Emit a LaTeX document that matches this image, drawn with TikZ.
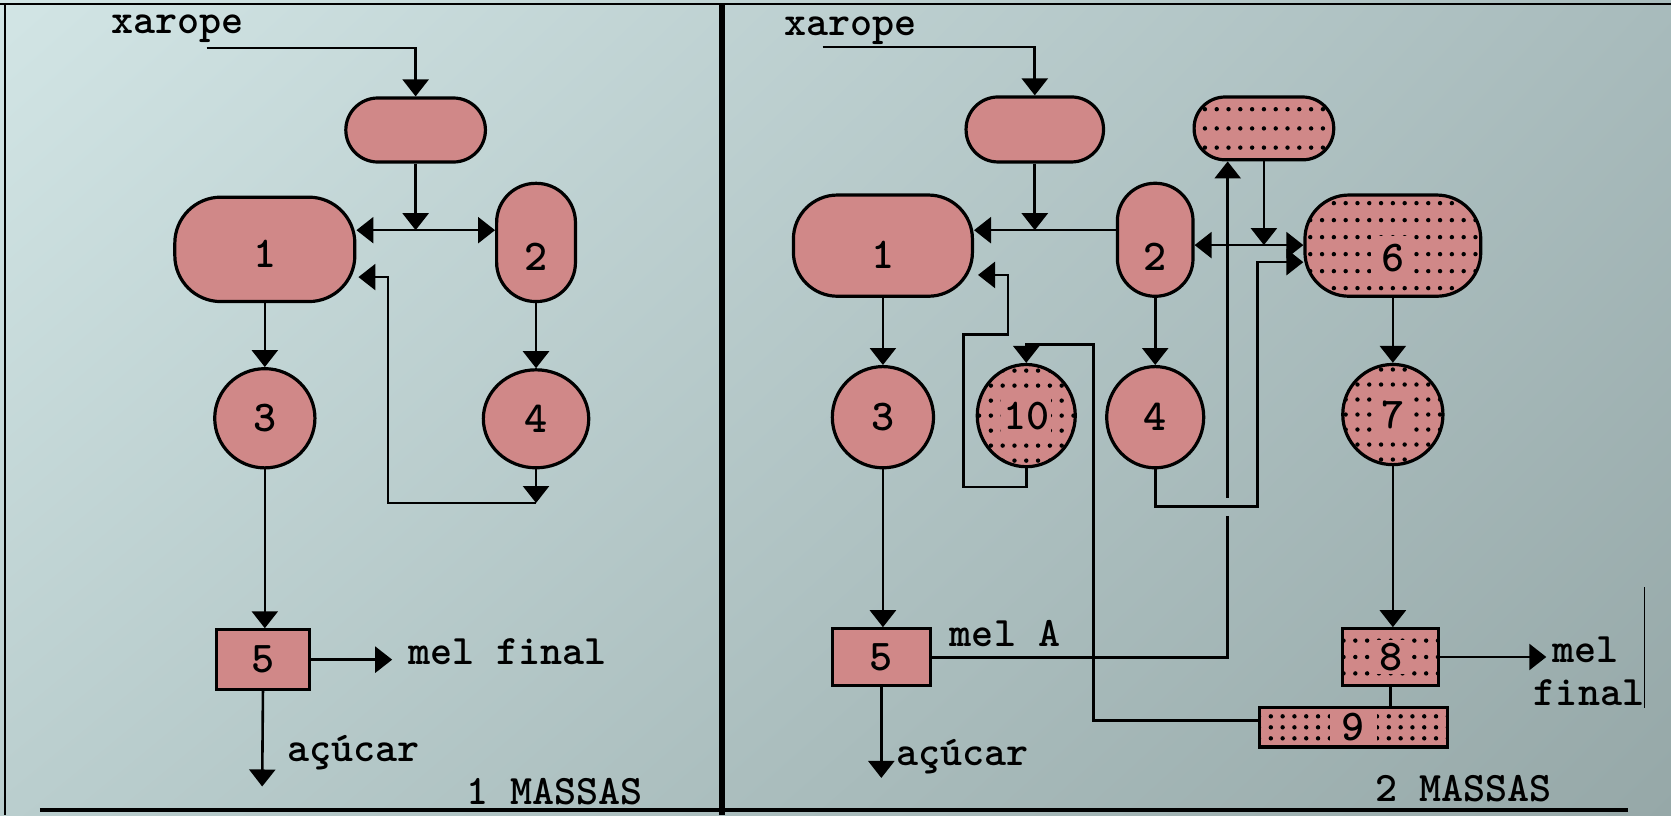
\documentclass[tikz,border=0pt]{standalone}
\usetikzlibrary{arrows.meta,shapes.geometric,shadings}
\definecolor{bgul}{RGB}{210,229,229}
\definecolor{bgur}{RGB}{168,187,188}
\definecolor{bgll}{RGB}{186,206,206}
\definecolor{bglr}{RGB}{150,168,168}
\definecolor{pinkfill}{RGB}{208,136,136}
\newcommand{\numfont}{\fontsize{22}{24}\selectfont\ttfamily\bfseries}
\newcommand{\txtfont}{\fontsize{21}{24}\selectfont\ttfamily\bfseries}
\tikzset{
  conn/.style={line width=1.3pt},
  arr/.style={line width=1.3pt, -{Triangle[width=13pt,length=8.5pt]}},
  unitshape/.style={draw, line width=1.6pt, fill=pinkfill, inner sep=0pt},
  stad/.style n args={3}{unitshape, rectangle, rounded corners=#3, minimum width=#1, minimum height=#2},
  ovl/.style 2 args={unitshape, ellipse, minimum width=#1, minimum height=#2},
  boxu/.style 2 args={unitshape, rectangle, minimum width=#1, minimum height=#2},
  dotfill/.style={path picture={
      \foreach \i in {-9,...,9}{\foreach \j in {-4,...,4}{
        \fill[black] ([shift={(\i*5.9pt,\j*#1)}]path picture bounding box.center) circle (1.1pt);}}}},
  dotfill/.default=8.5pt,
  dotfillh/.style={path picture={
      \foreach \i in {-9,...,9}{\foreach \j in {-4,...,3}{
        \fill[black] ([shift={(\i*5.9pt,\j*#1+0.5*#1)}]path picture bounding box.center) circle (1.1pt);}}}},
  lab/.style={font=\numfont, inner sep=1pt},
  dlab/.style={font=\numfont, fill=pinkfill, inner xsep=#1, inner ysep=4pt},
  txt/.style={font=\txtfont, inner sep=0pt},
}
\begin{document}
\begin{tikzpicture}[x=0.5328pt, y=-0.5328pt]
\useasboundingbox (0,0) rectangle (1568,765);
\shade[upper left=bgul, upper right=bgur, lower left=bgll, lower right=bglr] (0,0) rectangle (1568,765);
% frame
\draw[line width=1pt] (0,4) -- (1568,4);
\draw[line width=1.1pt] (5,4) -- (5,765);
\draw[line width=3.3pt] (677.5,4) -- (677.5,765);
\draw[line width=2pt] (37.5,760) -- (1528,760);
\draw[line width=0.8pt] (1543,551) -- (1543,664);

% ===== left panel =====
\node[txt, anchor=base] (xarl) at (166.5,31) {xarope};
\coordinate (xls) at (194,45);
\node[stad={69.8pt}{32pt}{16pt}] (tl) at (390,122) {};
\node[stad={90pt}{52.2pt}{23pt}, label={[lab,yshift=-2pt]center:1}] (n1l) at (248.5,234) {};
\node[stad={39.4pt}{59.1pt}{19.5pt}, label={[lab,yshift=-7pt]center:2}] (n2l) at (503,227.5) {};
\node[ovl={50.1pt}{49.6pt}, label={[lab]center:3}] (n3l) at (248.5,392.5) {};
\node[ovl={52.7pt}{49pt}, label={[lab]center:4}] (n4l) at (503,393) {};
\node[boxu={46.4pt}{29.8pt}, label={[lab]center:5}] (n5l) at (247,619) {};

\draw[arr] (xls) -| (tl.north);
\coordinate (jl) at (390,216);
\draw[arr] (tl) -- (jl);
\draw[arr] (jl) -- (n1l.east |- jl);
\draw[arr] (jl) -- (n2l.west |- jl);
\draw[arr] (n1l) -- (n1l |- n3l.north);
\draw[arr] (n2l) -- (n2l |- n4l.north);
\coordinate (ml) at (503,472);
\coordinate (rl1) at (364,472);
\coordinate (rl2) at (364,260);
\draw[arr] (n4l) -- (ml);
\draw[arr, shorten >=1pt] (ml) -- (rl1) -- (rl2) -- (rl2 -| n1l.east);
\draw[arr] (n3l) -- (n3l |- n5l.north);
\coordinate (mfl) at (368,619);
\draw[arr] (n5l) -- (mfl);
\node[txt, anchor=base west] (melfl) at (383,624) {mel final};
\coordinate (acl) at (246,738);
\draw[arr] (n5l) -- (acl);
\node[txt, anchor=base west] (acucl) at (269,715) {açúcar};
\node[txt, anchor=base west] (mass1) at (437,755) {1 MASSAS};

% ===== right panel =====
\node[txt, anchor=base] (xarr) at (798,33) {xarope};
\coordinate (xrs) at (772,44);
\node[stad={68.7pt}{32.5pt}{16pt}] (tr) at (971,121.5) {};
\node[stad={69.8pt}{31.4pt}{15.5pt}, dotfill=9.6pt] (td) at (1186,120.5) {};
\node[stad={89.5pt}{50.6pt}{22pt}, label={[lab,yshift=-4.5pt]center:1}] (n1r) at (828.5,230.5) {};
\node[stad={37.8pt}{56.5pt}{18.8pt}, label={[lab,yshift=-8.5pt]center:2}] (n2r) at (1084,225) {};
\node[stad={87.9pt}{50.6pt}{22pt}, dotfillh=8.5pt, label={[dlab=5pt,yshift=-6pt]center:6}] (n6) at (1307,230.5) {};
\node[ovl={50.6pt}{50.6pt}, label={[lab]center:3}] (n3r) at (828.5,391.5) {};
\node[ovl={49pt}{51.1pt}, dotfill=7.5pt, label={[dlab=1pt]center:10}] (n10) at (963,390) {};
\node[ovl={48.5pt}{50.6pt}, label={[lab]center:4}] (n4r) at (1084,391.5) {};
\node[ovl={50.1pt}{50.1pt}, dotfill=7.5pt, label={[dlab=3pt]center:7}] (n7) at (1307,389) {};
\node[boxu={49pt}{28.2pt}, label={[lab]center:5}] (n5r) at (827,616.5) {};
\node[boxu={48pt}{28.2pt}, dotfill=8.2pt, label={[dlab=4pt,inner ysep=1.5pt]center:8}] (n8) at (1305,616.5) {};
\node[boxu={93.8pt}{19.7pt}, dotfill=5.5pt, label={[dlab=6pt,inner ysep=0.5pt]center:9}] (n9) at (1270,682.5) {};

\draw[arr] (xrs) -| (tr.north);
\coordinate (jr) at (971,216);
\draw[arr] (tr) -- (jr);
\draw[arr] (n2r.west |- jr) -- (n1r.east |- jr);
\coordinate (jd) at (1186,230);
\draw[arr] (td) -- (jd);
\draw[arr] (jd) -- (n2r.east |- jd);
\draw[arr] (jd) -- (n6.west |- jd);
\draw[arr] (n1r) -- (n1r |- n3r.north);
\draw[arr] (n2r) -- (n2r |- n4r.north);
\draw[arr] (n6) -- (n6 |- n7.north);
\draw[arr] (n3r) -- (n3r |- n5r.north);
\draw[arr] (n7) -- (n7 |- n8.north);
\coordinate (acr) at (827,730);
\draw[arr] (n5r) -- (acr);
\node[txt, anchor=base west] (acucr) at (841,718) {açúcar};
\coordinate (mfr) at (1451,616.5);
\draw[arr] (n8) -- (mfr);
\node[txt, anchor=base west] (melr) at (1456,622) {mel};
\node[txt, anchor=base west] (finr) at (1439,662) {final};
\draw[conn] (n8) -- (n8 |- n9.north);
% 9 -> 10
\coordinate (p1) at (1026,676);
\coordinate (p2) at (1026,323);
\draw[arr] (n9.west |- p1) -- (p1) -- (p2) -| (n10.north);
% 10 -> 1
\coordinate (q1) at (963,457);
\coordinate (q2) at (904,457);
\coordinate (q3) at (904,314);
\coordinate (q4) at (946,314);
\coordinate (q5) at (946,258);
\draw[arr, shorten >=2pt] (n10.south) -- (q1) -- (q2) -- (q3) -- (q4) -- (q5) -- (q5 -| n1r.east);
% 4 -> 6
\coordinate (r1) at (1084,475);
\coordinate (r2) at (1180,475);
\coordinate (r3) at (1180,246);
\draw[arr] (n4r) -- (r1) -- (r2) -- (r3) -- (r3 -| n6.west);
% 5 -> mel A -> dotted top box
\coordinate (s1) at (1152,617);
\coordinate (s2) at (1152,484);
\coordinate (s3) at (1152,467);
\draw[conn] (n5r.east |- s1) -- (s1) -- (s2);
\draw[arr] (s3) -- (s3 |- td.south);
\node[txt, anchor=base west] (mela) at (891,607) {mel A};
\node[txt, anchor=base west] (mass2) at (1290,752) {2 MASSAS};
\end{tikzpicture}
\end{document}
